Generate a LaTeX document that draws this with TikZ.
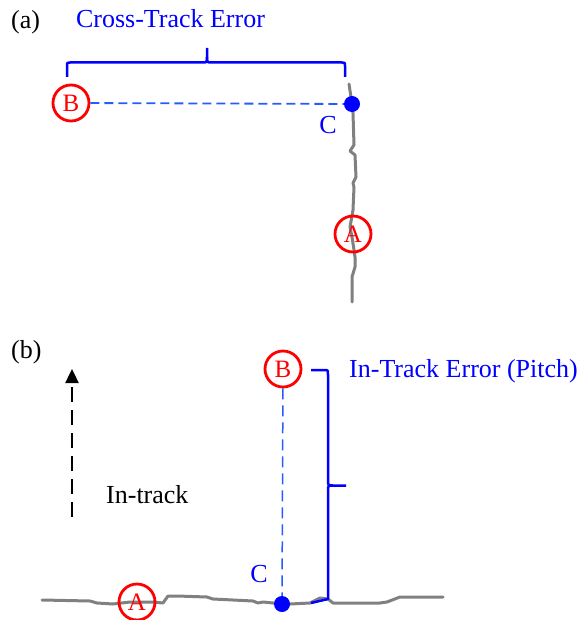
\documentclass[tikz,border=0pt]{standalone}
\usepackage{fontspec}
\setmainfont{Liberation Serif}
\usetikzlibrary{arrows.meta}
\definecolor{trackgray}{RGB}{128,128,128}
\definecolor{dashblue}{RGB}{40,90,255}
\begin{document}
\begin{tikzpicture}[x=1pt,y=-1pt,
  lbl/.style={font=\fontsize{26}{30}\selectfont, inner sep=0pt},
  ptc/.style={circle, draw=red, line width=2.8pt, text=red, minimum size=36pt, inner sep=0pt, font=\fontsize{25}{30}\selectfont},
  dotc/.style={circle, fill=blue, minimum size=16pt, inner sep=0pt},
  track/.style={draw=trackgray, line width=3pt, line join=round, line cap=round},
  dashln/.style={draw=dashblue, line width=1.8pt, dash pattern=on 9pt off 5pt},
  bracel/.style={draw=blue, line width=2.5pt, line join=round},
]
\useasboundingbox (0,0) rectangle (581,620);

% ---------- panel (a) ----------
\node[lbl, anchor=base west] (la) at (11,29) {(a)};
\node[lbl, anchor=base, text=blue] (cte) at (170.5,27.5) {Cross-Track Error};
\draw[bracel] (67,77) -- (67,66) .. controls (67,62.5) .. (70,62.5) -- (202,62.5)
  .. controls (207,62.5) .. (207,57) -- (207,48);
\draw[bracel] (207,57) .. controls (207,62.5) .. (212,62.5) -- (342,62.5)
  .. controls (345,62.5) .. (345,66) -- (345,77);

\draw[track] (349,84) -- (352,104) -- (353,113) -- (354,145) -- (350,151) -- (355,155)
  -- (356,177) -- (353,183) -- (354,187) -- (353,210) -- (350,227) -- (352,237)
  -- (354,250) -- (355,257) -- (355,267) -- (352,277) -- (352,302);

\node[ptc] (Ba) at (71,103) {B};
\node[ptc] (Aa) at (353,234) {A};
\node[dotc] (Ca) at (352,104) {};
\draw[dashln] (Ba) -- (Ca);
\node[lbl, anchor=base, text=blue] (cla) at (328,134) {C};

% ---------- panel (b) ----------
\node[lbl, anchor=base west] (lb) at (11,358) {(b)};
\coordinate (arrS) at (72,517);
\coordinate (arrE) at (72,369);
\draw[line width=2.4pt, dash pattern=on 15pt off 8pt, -{Triangle[length=14pt,width=13pt]}] (arrS) -- (arrE);
\node[lbl, anchor=base west] (intr) at (106,503) {In-track};

\draw[track] (42,600) -- (90,601) -- (97,603) -- (113,604) -- (130,602) -- (153,602)
  -- (163,603) -- (168,596) -- (177,596) -- (207,597) -- (213,599) -- (253,601)
  -- (258,603) -- (263,602) -- (273,603) -- (282,604) -- (290,604) -- (310,603)
  -- (320,598) -- (328,599) -- (333,603) -- (380,603) -- (387,602) -- (400,597) -- (443,597);

\node[ptc] (Ab) at (137,602) {A};
\node[ptc] (Bb) at (283,369) {B};
\node[dotc] (Cb) at (282,604) {};
\draw[dashln, line width=1.5pt, dash pattern=on 11pt off 6pt] (Bb) -- (Cb);
\node[lbl, anchor=base, text=blue] (clb) at (259,582) {C};

\draw[bracel] (311,370) -- (324,370) .. controls (328,370) .. (328,375) -- (328,480)
  .. controls (328,485.5) .. (333,485.5) -- (346,485.5);
\draw[bracel] (333,485.5) .. controls (328,485.5) .. (328,491) -- (328,599) -- (311,603);
\node[lbl, anchor=base west, text=blue] (ite) at (349,377) {In-Track Error (Pitch)};
\end{tikzpicture}
\end{document}
